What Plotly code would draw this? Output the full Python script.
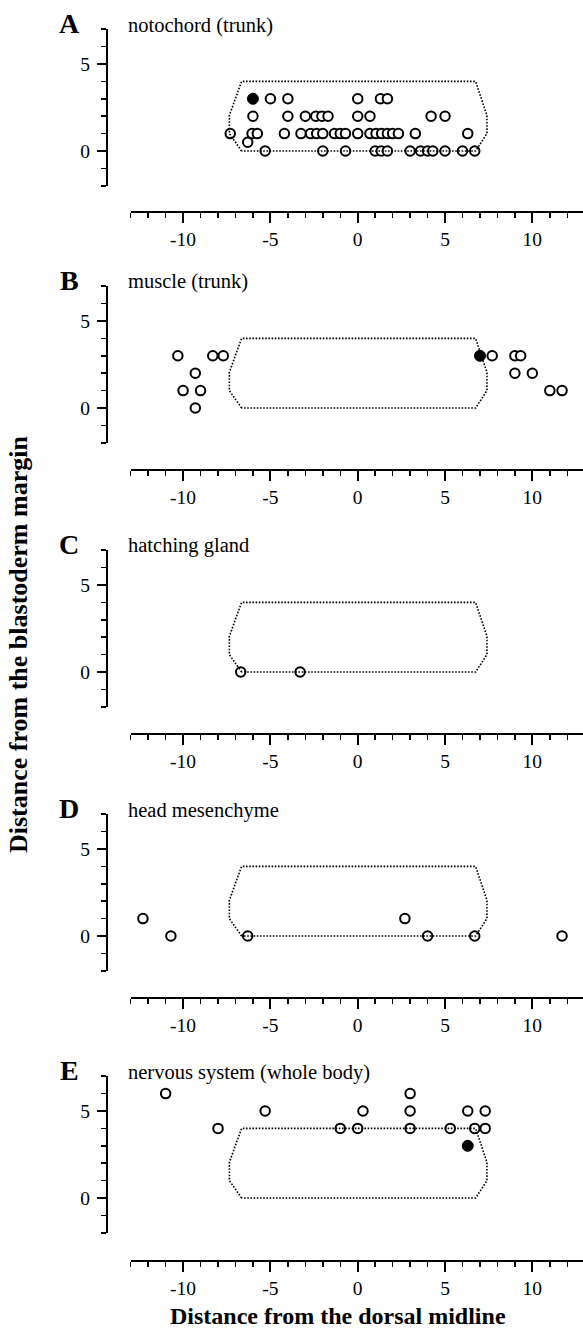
import plotly.graph_objects as go

# ---------------- data ----------------
panel_letters = ["A", "B", "C", "D", "E"]
panel_titles = ["notochord (trunk)", "muscle (trunk)", "hatching gland",
                "head mesenchyme", "nervous system (whole body)"]

# dotted outline (same in every panel)
outline_x = [-6.65, -7.35, -7.35, -6.65, 6.75, 7.4, 7.4, 6.75, -6.65]
outline_y = [0, 1, 2.05, 4, 4, 2.05, 1, 0, 0]

# A: notochord (trunk)
A_open_x = [-5, -4, 0, 1.3, 1.7,
            -6, -4, -3, -2.4, -2.05, -1.7, 0, 0.7, 4.2, 5.0,
            -7.3, -6.05, -5.75, -4.2, -3.25, -2.7, -2.35, -2.0, -1.33, -1.0, -0.7, 0,
            0.7, 1.05, 1.37, 1.7, 2.0, 2.33, 3.3, 6.3,
            -6.3,
            -5.3, -2.0, -0.7, 1.0, 1.35, 1.7, 3.0, 3.6, 4.0, 4.3, 5.0, 6.0, 6.7]
A_open_y = [3, 3, 3, 3, 3,
            2, 2, 2, 2, 2, 2, 2, 2, 2, 2,
            1, 1, 1, 1, 1, 1, 1, 1, 1, 1, 1, 1,
            1, 1, 1, 1, 1, 1, 1, 1,
            0.5,
            0, 0, 0, 0, 0, 0, 0, 0, 0, 0, 0, 0, 0]
A_fill_x = [-6]
A_fill_y = [3]

# B: muscle (trunk)
B_open_x = [-10.3, -8.3, -7.7, 7.7, 9.0, 9.33, -9.3, 9.0, 10.0, -10.0, -9.0, 11.0, 11.7, -9.3]
B_open_y = [3, 3, 3, 3, 3, 3, 2, 2, 2, 1, 1, 1, 1, 0]
B_fill_x = [7.0]
B_fill_y = [3]

# C: hatching gland
C_open_x = [-6.7, -3.3]
C_open_y = [0, 0]
C_fill_x = []
C_fill_y = []

# D: head mesenchyme
D_open_x = [-12.3, -10.7, -6.3, 2.7, 4.0, 6.7, 11.7]
D_open_y = [1, 0, 0, 1, 0, 0, 0]
D_fill_x = []
D_fill_y = []

# E: nervous system (whole body)
E_open_x = [-11.0, 3.0, -5.3, 0.3, 3.0, 6.3, 7.3, -8.0, -1.0, 0.0, 3.0, 5.3, 6.7, 7.3]
E_open_y = [6, 6, 5, 5, 5, 5, 5, 4, 4, 4, 4, 4, 4, 4]
E_fill_x = [6.3]
E_fill_y = [3]

open_x = [A_open_x, B_open_x, C_open_x, D_open_x, E_open_x]
open_y = [A_open_y, B_open_y, C_open_y, D_open_y, E_open_y]
fill_x = [A_fill_x, B_fill_x, C_fill_x, D_fill_x, E_fill_x]
fill_y = [A_fill_y, B_fill_y, C_fill_y, D_fill_y, E_fill_y]

x_tick_labels = ["-10", "-5", "0", "5", "10"]
x_tick_vals = [-10, -5, 0, 5, 10]
y_tick_labels = ["0", "5"]
y_tick_vals = [0, 5]

# ---------------- layout geometry (pixels) ----------------
W, H = 583, 1330
FONT = "Liberation Serif"
unit = 17.4
zero_px = [151, 408, 672, 936, 1198]      # pixel row of y = 0 in each panel
xline_px = [211.7, 469.5, 733.5, 997.5, 1260.7]
yaxis_px = 107
x_left_px = 130.7

fig = go.Figure()
annotations = []
for i in range(5):
    n = "" if i == 0 else str(i + 1)
    xa, ya = "x" + n, "y" + n
    pts = sorted(zip(open_x[i], open_y[i]), key=lambda p: (p[0], -p[1]))
    fig.add_trace(go.Scatter(
        x=[p[0] for p in pts], y=[p[1] for p in pts], mode="markers",
        marker=dict(symbol="circle", size=9.5, color="white",
                    line=dict(color="black", width=2)),
        xaxis=xa, yaxis=ya, cliponaxis=False, showlegend=False, hoverinfo="skip"))
    fig.add_trace(go.Scatter(
        x=outline_x, y=outline_y, mode="lines",
        line=dict(color="black", width=1.6, dash="1.6px,1.6px"),
        xaxis=xa, yaxis=ya, cliponaxis=False, showlegend=False, hoverinfo="skip"))
    if fill_x[i]:
        fig.add_trace(go.Scatter(
            x=fill_x[i], y=fill_y[i], mode="markers",
            marker=dict(symbol="circle", size=11, color="black",
                        line=dict(color="black", width=1)),
            xaxis=xa, yaxis=ya, cliponaxis=False, showlegend=False, hoverinfo="skip"))

    p0 = zero_px[i]
    ybot = p0 + 2 * unit
    ytop = p0 - 7 * unit
    fig.layout["xaxis" + n] = dict(
        domain=[x_left_px / W, 1.0], range=[-13, 12.9], anchor="free",
        position=1 - xline_px[i] / H,
        showline=True, linewidth=2, linecolor="black",
        ticks="outside", ticklen=10, tickwidth=2, tickcolor="black",
        tickmode="array", tickvals=x_tick_vals, ticktext=x_tick_labels,
        minor=dict(dtick=1, tick0=0, ticks="outside", ticklen=5, tickwidth=1.5,
                   tickcolor="black", showgrid=False),
        tickfont=dict(family=FONT, size=19.5, color="black"),
        showgrid=False, zeroline=False, automargin=False, fixedrange=True)
    fig.layout["yaxis" + n] = dict(
        domain=[1 - ybot / H, 1 - ytop / H], range=[-2, 7], anchor="free",
        position=yaxis_px / W,
        showline=True, linewidth=2, linecolor="black",
        ticks="outside", ticklen=9, tickwidth=2, tickcolor="black",
        tickmode="array", tickvals=y_tick_vals, ticktext=y_tick_labels,
        minor=dict(dtick=1, tick0=0, ticks="outside", ticklen=5, tickwidth=1.5,
                   tickcolor="black", showgrid=False),
        tickfont=dict(family=FONT, size=19.5, color="black"),
        ticklabelstandoff=3,
        showgrid=False, zeroline=False, automargin=False, fixedrange=True)

    annotations.append(dict(
        text="<b>" + panel_letters[i] + "</b>", xref="paper", yref="paper",
        x=69 / W, y=1 - (p0 - 128) / H, xanchor="center", yanchor="middle",
        showarrow=False, font=dict(family=FONT, size=28, color="black")))
    annotations.append(dict(
        text=panel_titles[i], xref="paper", yref="paper",
        x=126 / W, y=1 - (p0 - 126) / H, xanchor="left", yanchor="middle",
        showarrow=False, font=dict(family=FONT, size=20.5, color="black")))

annotations.append(dict(
    text="<b>Distance from the dorsal midline</b>", xref="paper", yref="paper",
    x=338 / W, y=1 - 1316 / H, xanchor="center", yanchor="middle",
    showarrow=False, font=dict(family=FONT, size=24, color="black")))
annotations.append(dict(
    text="<b>Distance from the blastoderm margin</b>", xref="paper", yref="paper",
    x=18 / W, y=1 - 645 / H, xanchor="center", yanchor="middle", textangle=-90,
    showarrow=False, font=dict(family=FONT, size=26, color="black")))

fig.update_layout(
    width=W, height=H, autosize=False,
    margin=dict(l=0, r=0, t=0, b=0, pad=0),
    paper_bgcolor="white", plot_bgcolor="white",
    annotations=annotations, showlegend=False)

fig.write_html("out.html",
               config={"displayModeBar": False, "staticPlot": True},
               post_script="document.body.style.margin='0';document.body.style.padding='0';")
